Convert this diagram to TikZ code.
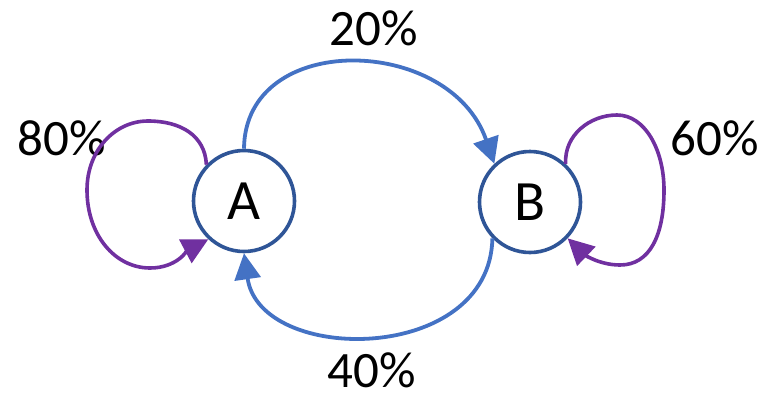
\documentclass[tikz,border=0pt]{standalone}
\usepackage{fontspec}
\setmainfont{Carlito}
\usetikzlibrary{arrows.meta}
\definecolor{ringblue}{HTML}{2F5597}
\definecolor{arcblue}{HTML}{4472C4}
\definecolor{loopviolet}{HTML}{7030A0}
\begin{document}
\begin{tikzpicture}[x=1pt,y=-1pt,
  state/.style={circle,draw=ringblue,line width=3.6pt,fill=white,minimum size=101pt,inner sep=0pt,
    font=\fontsize{57}{68}\selectfont},
  pct/.style={anchor=base,inner sep=0pt,font=\fontsize{51}{61}\selectfont},
  tip/.style={-{Triangle[length=26pt,width=26pt]}},
  cross/.style={tip,draw=arcblue,line width=3.8pt},
  selfloop/.style={tip,draw=loopviolet,line width=3.6pt}]
\useasboundingbox (0,0) rectangle (775,402);
\node[state] (A) at (244,201) {A};
\node[state] (B) at (530,202) {B};
\node[pct] (l20) at (373.5,45) {20\%};
\node[pct] (l40) at (372,387) {40\%};
\node[pct] (l80) at (61.5,155) {80\%};
\node[pct] (l60) at (714.5,155) {60\%};
\draw[cross] (A.90) .. controls (245,30) and (450,35) .. (B.133);
\draw[cross] (B.224) .. controls (490,365) and (260,365) .. (A.270);
\draw[selfloop] (A.136) .. controls (205,135) and (180,121) .. (148,121)
  .. controls (115,121) and (87,150) .. (87,190)
  .. controls (87,235) and (115,268) .. (150,268)
  .. controls (177,268) and (188,250) .. (A.227);
\draw[selfloop] (B.47) .. controls (564,135) and (590,115) .. (617,115)
  .. controls (645,115) and (664,150) .. (664,190)
  .. controls (664,235) and (650,265) .. (620,265)
  .. controls (600,265) and (585,255) .. (B.316);
\end{tikzpicture}
\end{document}
